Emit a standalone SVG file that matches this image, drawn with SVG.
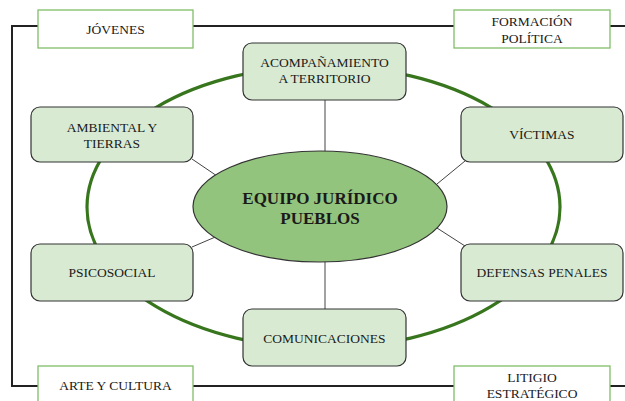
<svg xmlns="http://www.w3.org/2000/svg" width="625" height="401" viewBox="0 0 625 401">
<style>
text{font-family:"Liberation Serif","Times New Roman",serif;fill:#1a1a1a;text-anchor:middle}
.n{fill:#d9ead3;stroke:#333;stroke-width:1.2}
.t{font-size:13.5px}
.lb{fill:#fff;stroke:#7fbf68;stroke-width:1.3}
.c{stroke:#444;stroke-width:1;fill:none}
.b{font-size:17px;font-weight:bold}
</style>
<rect width="625" height="401" fill="#fff"/>
<path d="M625,26 H12 V386 H625" fill="none" stroke="#222" stroke-width="2"/>
<ellipse cx="323.5" cy="207" rx="236.5" ry="141" fill="none" stroke="#38761d" stroke-width="3.2"/>
<g id="connectors">
<line class="c" x1="325" y1="100" x2="325" y2="152"/>
<line class="c" x1="325" y1="261" x2="325" y2="309"/>
<line class="c" x1="192" y1="159" x2="220" y2="178"/>
<line class="c" x1="192" y1="247" x2="220" y2="235"/>
<line class="c" x1="465" y1="161" x2="437" y2="184"/>
<line class="c" x1="465" y1="246" x2="437" y2="228"/>
</g>
<g id="acompanamiento"><rect class="n" x="243" y="43" width="163" height="57" rx="9"/><text class="t" x="324.5" y="67">ACOMPAÑAMIENTO</text><text class="t" x="324.5" y="83">A TERRITORIO</text></g>
<g id="ambiental"><rect class="n" x="31" y="107" width="162" height="55" rx="9"/><text class="t" x="112" y="132">AMBIENTAL Y</text><text class="t" x="112" y="148">TIERRAS</text></g>
<g id="victimas"><rect class="n" x="461" y="107" width="162" height="55" rx="9"/><text class="t" x="542" y="139">VÍCTIMAS</text></g>
<g id="psicosocial"><rect class="n" x="31" y="244" width="162" height="57" rx="9"/><text class="t" x="112" y="277">PSICOSOCIAL</text></g>
<g id="defensas"><rect class="n" x="461" y="244" width="162" height="57" rx="9"/><text class="t" x="542" y="277">DEFENSAS PENALES</text></g>
<g id="comunicaciones"><rect class="n" x="243" y="309" width="163" height="57" rx="9"/><text class="t" x="324.5" y="343">COMUNICACIONES</text></g>
<g id="equipo"><ellipse cx="320" cy="206.5" rx="127" ry="55.5" fill="#93c47d" stroke="#333" stroke-width="1.2"/><text class="b" x="320" y="204">EQUIPO JURÍDICO</text><text class="b" x="320" y="224">PUEBLOS</text></g>
<g id="jovenes"><rect class="lb" x="38" y="10" width="155" height="38"/><text class="t" x="115.5" y="34">JÓVENES</text></g>
<g id="formacion"><rect class="lb" x="454" y="10" width="156" height="38"/><text class="t" x="532" y="26">FORMACIÓN</text><text class="t" x="532" y="43">POLÍTICA</text></g>
<g id="arte"><rect class="lb" x="38" y="366" width="155" height="40"/><text class="t" x="115.5" y="390">ARTE Y CULTURA</text></g>
<g id="litigio"><rect class="lb" x="454" y="366" width="156" height="40"/><text class="t" x="532" y="382">LITIGIO</text><text class="t" x="532" y="398">ESTRATÉGICO</text></g>
</svg>
